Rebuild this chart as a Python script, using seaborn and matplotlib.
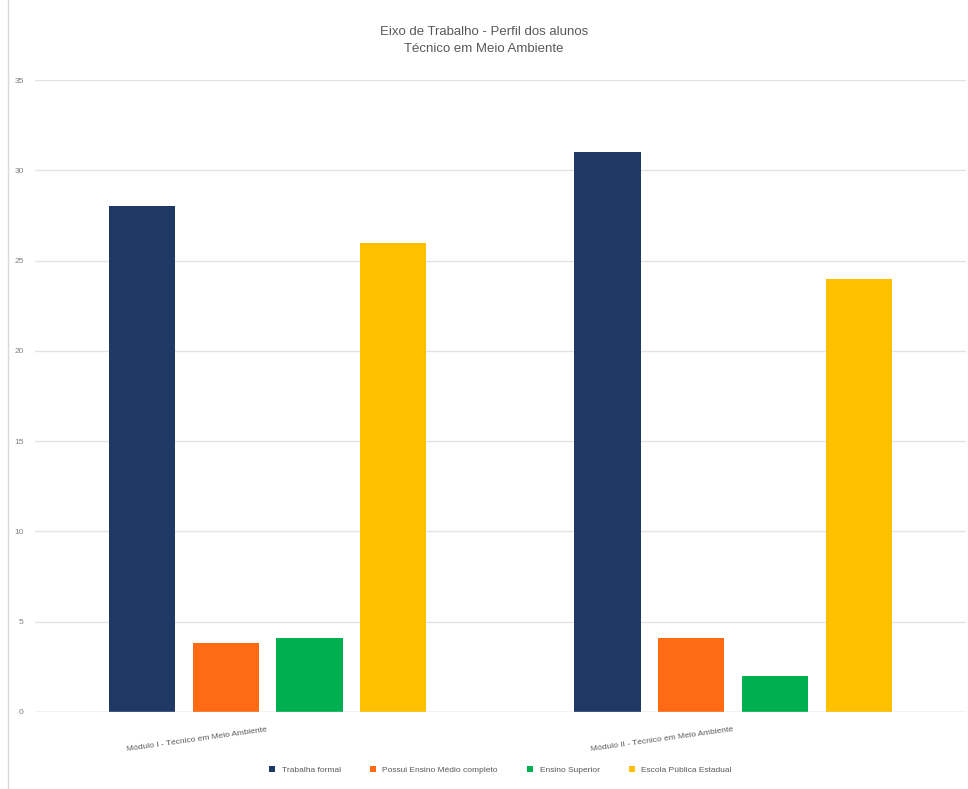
import seaborn as sns
import matplotlib.pyplot as plt
import pandas as pd

# data
modulos = ['Módulo I - Técnico em Meio Ambiente', 'Módulo II - Técnico em Meio Ambiente']
series = ['Trabalha formal', 'Possui Ensino Médio completo', 'Ensino Superior', 'Escola Pública Estadual']
mod1 = [28, 3.8, 4.1, 26]
mod2 = [31, 4.1, 2, 24]
cores = ['#1F3864', '#FF6A13', '#00B050', '#FFC000']

df = pd.DataFrame({
    'modulo': [modulos[0]] * 4 + [modulos[1]] * 4,
    'serie': series + series,
    'valor': mod1 + mod2,
})

sns.set_theme(style='whitegrid')
plt.rcParams['font.family'] = ['Liberation Sans', 'DejaVu Sans']

fig = plt.figure(figsize=(9.68, 7.89), dpi=100)
ax = fig.add_axes([0.036, 0.0976, 0.962, 0.801])

sns.barplot(data=df, x='modulo', y='valor', hue='serie', palette=cores,
            width=0.72, gap=0.21, saturation=1, linewidth=0, ax=ax)

ax.set_xlim(-0.5, 1.5)
ax.set_ylim(0, 35)
ax.set_yticks(range(0, 36, 5))
ax.grid(axis='y', color='#E3E3E3', linewidth=1)
ax.grid(axis='x', visible=False)
for s in ax.spines.values():
    s.set_visible(False)
ax.axhline(0, color='#D9D9D9', linewidth=1)

ax.tick_params(axis='y', labelsize=6, colors='#7F7F7F', pad=8, length=0)
ax.tick_params(axis='x', labelsize=6, colors='#595959', length=0, pad=10)
for lbl in ax.get_xticklabels():
    lbl.set_rotation(8)
    lbl.set_ha('right')
ax.set_xlabel('')
ax.set_ylabel('')

fig.text(0.5, 0.949, 'Eixo de Trabalho - Perfil dos alunos\nTécnico em Meio Ambiente',
         ha='center', va='center', fontsize=9.5, color='#595959', linespacing=1.6)

ax.legend(loc='upper center', bbox_to_anchor=(0.5, -0.074), ncol=4, frameon=False,
          fontsize=6, labelcolor='#595959', handlelength=0.7, handleheight=0.7,
          columnspacing=3.5)

fig.add_artist(plt.Line2D([0.008, 0.008], [0.0, 1.0], color='#D9D9D9', linewidth=1,
                          transform=fig.transFigure))

fig.savefig('out.png', dpi=100)
